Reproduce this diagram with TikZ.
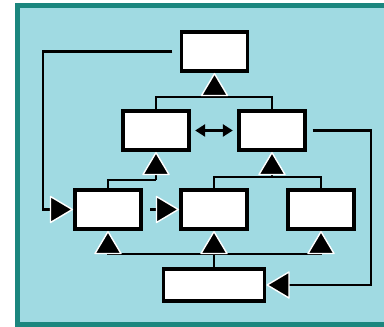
\documentclass[tikz,border=0pt]{standalone}
\usepackage{tikz}
\usetikzlibrary{arrows.meta,positioning}

\definecolor{frameteal}{RGB}{27,134,126}
\definecolor{panelblue}{RGB}{160,218,226}

\tikzset{
  block/.style={draw, line width=2.8pt, fill=white, inner sep=0pt, minimum width=1.65cm, minimum height=0.975cm},
  wide block/.style={block, minimum width=2.525cm, minimum height=0.8cm},
  wire/.style={line width=1.5pt},
  arr/.style={wire, -{Triangle[length=17pt 0,width=20pt 0,round,color=white,fill=black,line width=1pt 0]}},
  small arr/.style={wire, {Triangle[length=7pt,width=8.5pt]}-{Triangle[length=7pt,width=8.5pt]}}
}

\begin{document}
\begin{tikzpicture}[x=0.025cm, y=-0.025cm]
		\useasboundingbox (0,0) rectangle (384,327);
		\fill[frameteal] (15,3) rectangle (384,327);
		\fill[panelblue] (20,8) rectangle (384,322);

		\node[block] (top) at (214.5, 51.5) {};
		\node[block] (midL) at (156, 130.5) {};
		\node[block] (midR) at (272, 130.5) {};
		\node[block] (left) at (108, 209.5) {};
		\node[block] (centre) at (214, 209.5) {};
		\node[block] (right) at (321, 209.5) {};
		\node[wide block] (base) at (214, 285) {};

		\coordinate (topbar) at (214.5, 97);
		\coordinate (midLbar) at (156, 180);
		\coordinate (midRbar) at (272, 177);
		\coordinate (basebar) at (214, 254);
		\coordinate (farleft) at (43, 51.5);
		\coordinate (farright) at (371, 130.5);

		\draw [wire] (midL.north) |- (topbar) -| (midR.north);
		\draw [arr] (topbar) to (top.south);
		\draw [small arr, shorten <=3pt, shorten >=3pt] (midL.east) to (midR.west);
		\draw [wire] (left.north) |- (midLbar);
		\draw [arr] (midLbar) to (midL.south);
		\draw [wire] (centre.north) |- (midRbar) -| (right.north);
		\draw [arr] (midRbar) to (midR.south);
		\draw [arr, shorten <=5pt] (left.east) to (centre.west);
		\draw [arr, shorten <=5pt] (top.west) to (farleft) |- (left.west);
		\draw [arr, shorten <=4pt] (midR.east) to (farright) |- (base.east);
		\draw [wire] (base.north) to (basebar);
		\draw [arr] (basebar) -| (left.south);
		\draw [arr] (basebar) -| (right.south);
		\draw [arr] (base.north) to (centre.south);
		\end{tikzpicture}
\end{document}
